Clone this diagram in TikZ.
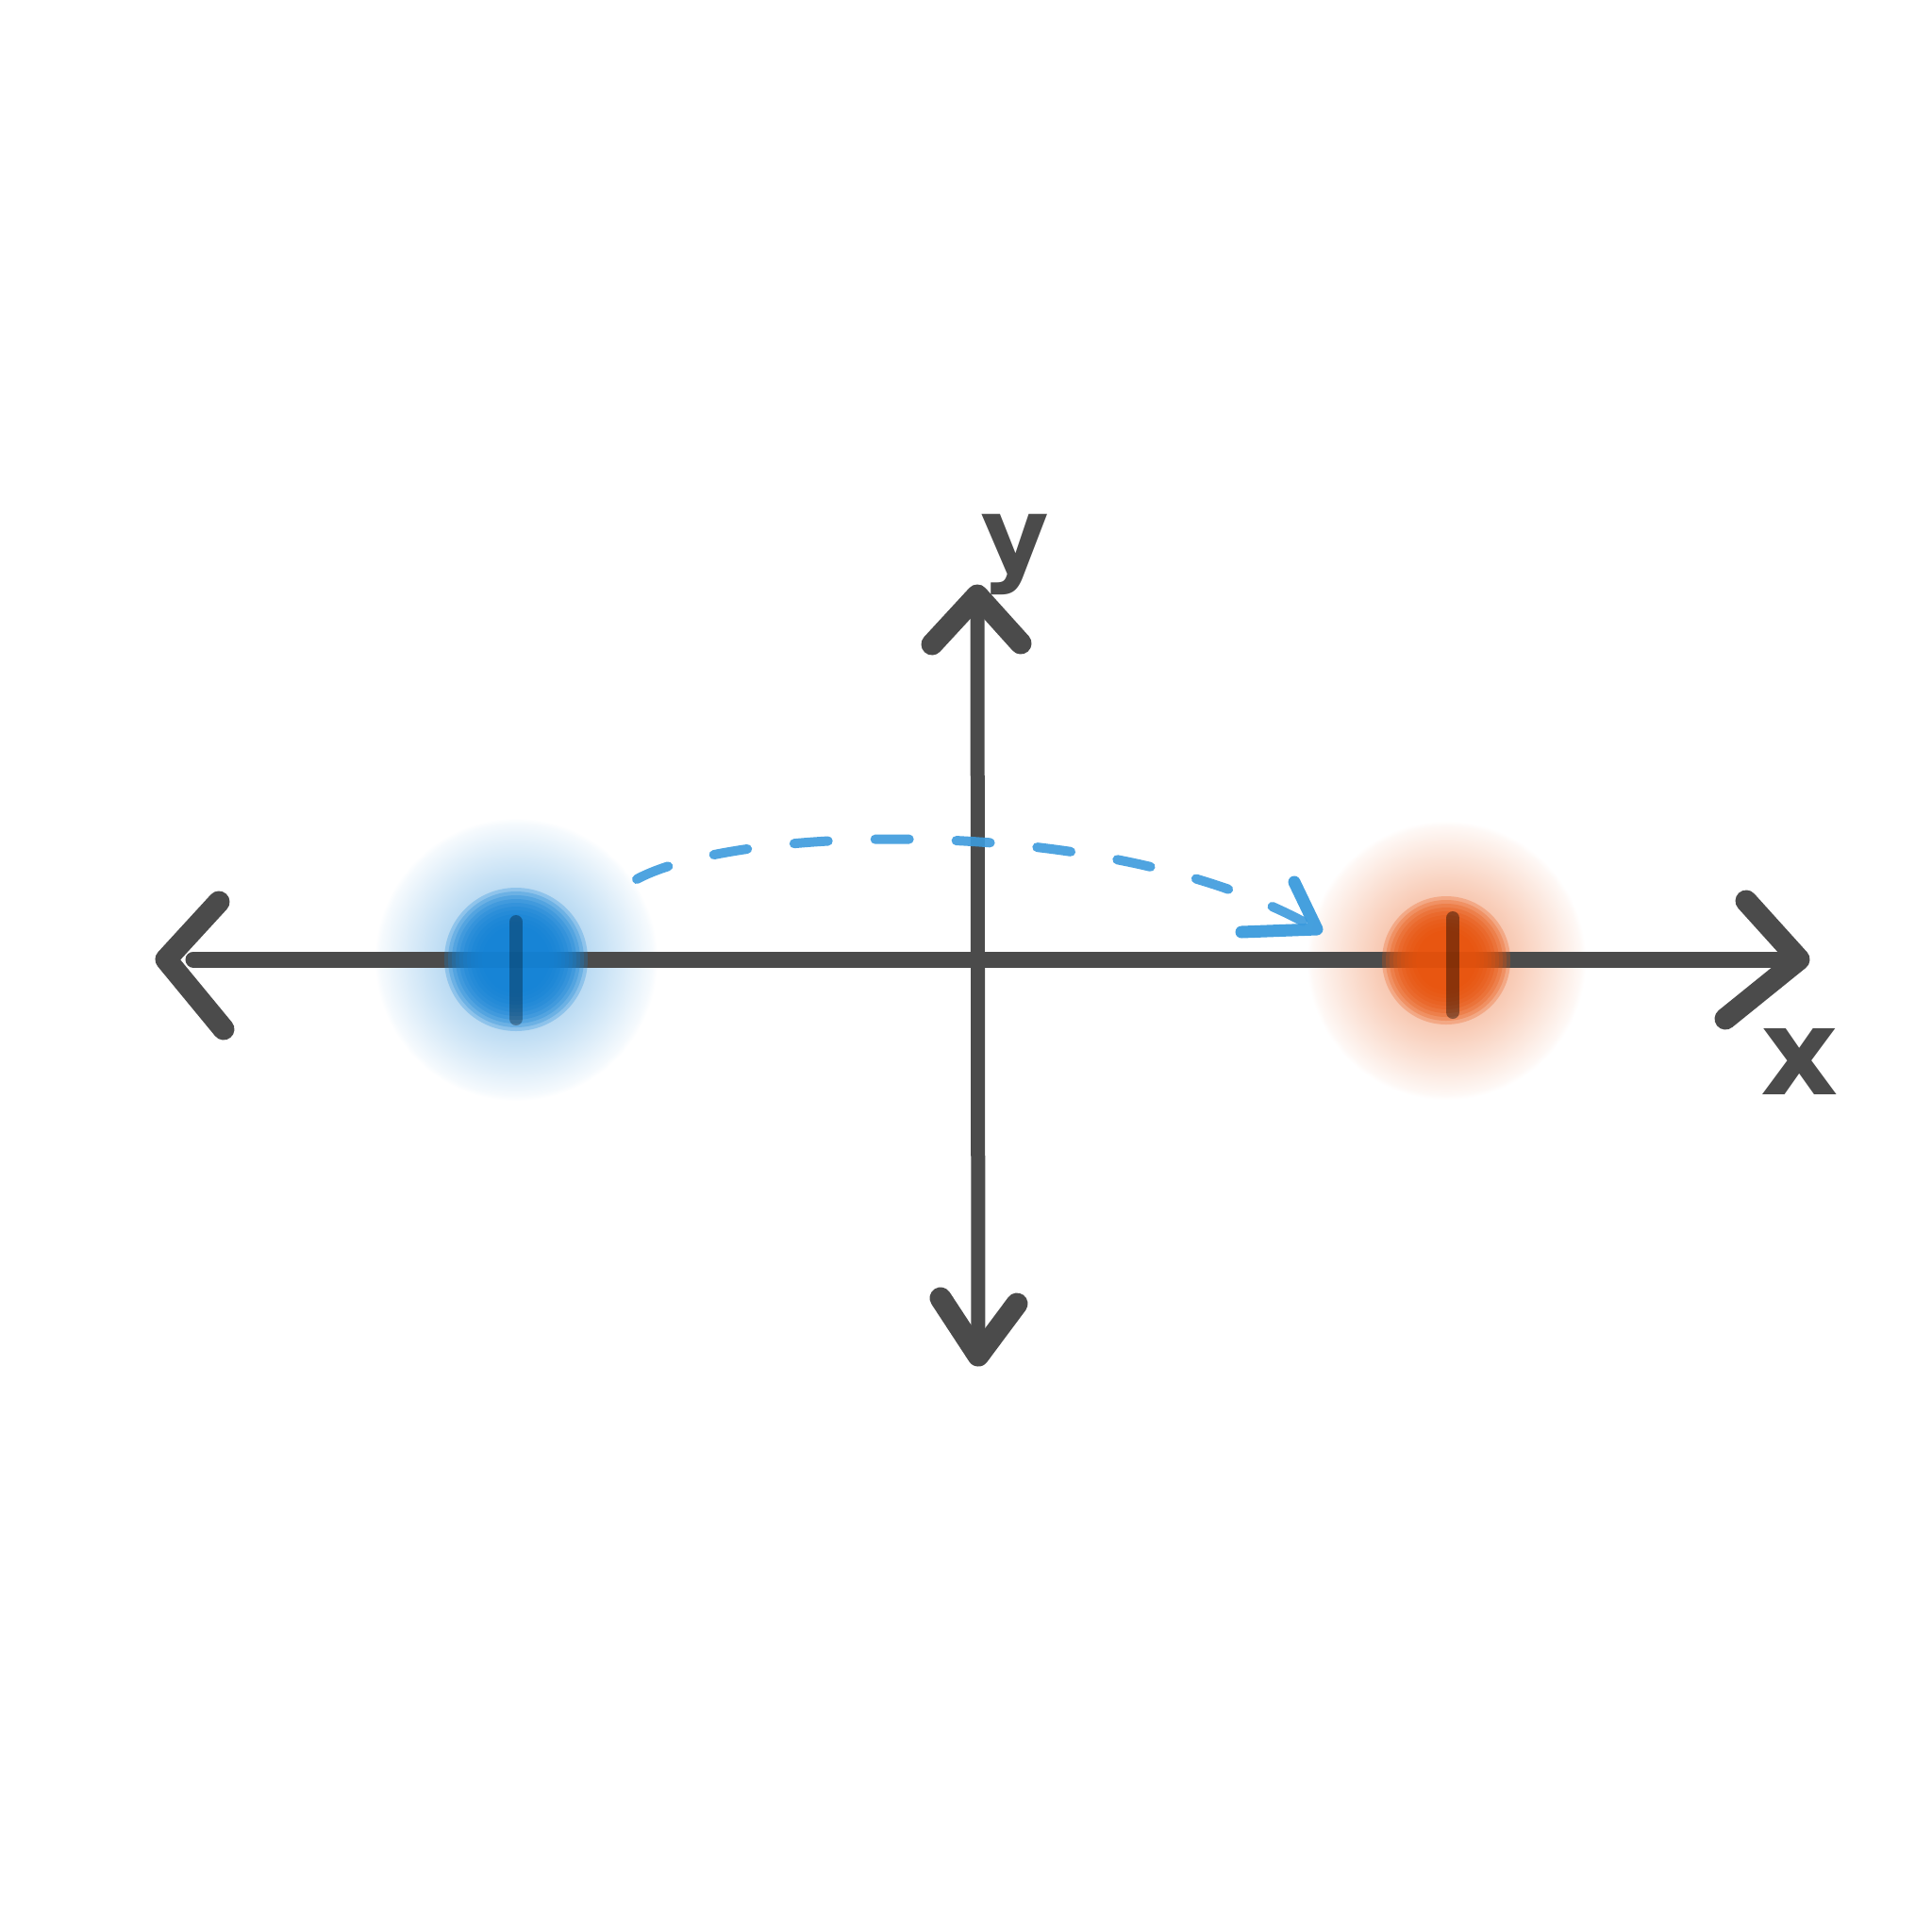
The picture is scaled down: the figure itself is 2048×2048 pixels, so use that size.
\documentclass[tikz,border=0pt]{standalone}
\usepackage{fontspec}
\setmainfont{DejaVu Sans}
\usetikzlibrary{calc}
\definecolor{axisC}{HTML}{4B4B4B}
\definecolor{blueC}{HTML}{1483D6}
\definecolor{orangeC}{HTML}{E8530C}
\definecolor{dashC}{HTML}{3C9BDD}
\pgfdeclareradialshading{bluehalo}{\pgfpoint{0bp}{0bp}}{color(0bp)=(blueC!45!white); color(10bp)=(blueC!35!white); color(15bp)=(blueC!24!white); color(20bp)=(blueC!13!white); color(24bp)=(blueC!4!white); color(25bp)=(white); color(50bp)=(white)}
\pgfdeclareradialshading{orangehalo}{\pgfpoint{0bp}{0bp}}{color(0bp)=(orangeC!45!white); color(10bp)=(orangeC!35!white); color(15bp)=(orangeC!24!white); color(20bp)=(orangeC!13!white); color(24bp)=(orangeC!4!white); color(25bp)=(white); color(50bp)=(white)}
\tikzset{
  axisline/.style={draw=axisC, line width=17pt, line cap=round},
  arrowhd/.style={draw=axisC, line width=23pt, line cap=round, line join=round},
  lbl/.style={text=axisC, font=\fontsize{112}{112}\selectfont\bfseries, inner sep=0pt},
  tickmk/.style={draw=black, opacity=0.3, line width=14pt, line cap=round},
  dasharc/.style={draw=dashC, line width=10pt, line cap=round, dash pattern=on 36pt off 50pt, opacity=0.9},
  dashhead/.style={draw=dashC, line width=13pt, line cap=round, line join=round, opacity=0.95}
}
\begin{document}
\begin{tikzpicture}[x=1pt, y=-1pt]
\useasboundingbox[fill=white] (0,0) rectangle (2048,2048);
% named points
\coordinate (blueP) at (547,1017);
\coordinate (orangeP) at (1533,1018);
\coordinate (xL) at (176,1017);
\coordinate (xLs) at (205,1017);
\coordinate (xR) at (1907,1017);
\coordinate (yT) at (1036,631);
\coordinate (yB) at (1037,1437);
\coordinate (arcS) at (675,932);
\coordinate (arcE) at (1396,985);
% halos
\shade[shading=bluehalo] (blueP) circle (150);
\shade[shading=orangehalo] (orangeP) circle (148);
% axes
\draw[axisline] (xLs) -- (xR);
\draw[axisline, line width=15pt] (yT) -- (yB);
\draw[arrowhd] (232,956) -- (xL) -- (237,1091);
\draw[arrowhd] (1851,955) -- (xR) -- (1829,1080);
\draw[arrowhd] (988,683) -- (yT) -- (1082,682);
\draw[arrowhd] (997,1376) -- (yB) -- (1078,1382);
% soft cores
\foreach \r in {36,40,...,76} {
  \fill[blueC, opacity=0.26] (blueP) circle (\r);
}
\foreach \r in {32,36,...,70} {
  \fill[orangeC, opacity=0.26] (orangeP) circle (\r);
}
% ticks
\draw[tickmk] (547,977) -- (547,1080);
\draw[tickmk, opacity=0.4] (1540,973) -- (1540,1073);
% dashed arc
\draw[dasharc] (arcS) .. controls (780,875) and (1180,860) .. (arcE);
\draw[dashhead] (1372,935) -- (arcE) -- (1316,988);
% labels
\node[lbl, anchor=base] (ylab) at (1076,606) {y};
\node[lbl, anchor=base, font=\fontsize{128}{128}\selectfont\bfseries] (xlab) at (1908,1160) {x};
\end{tikzpicture}
\end{document}
